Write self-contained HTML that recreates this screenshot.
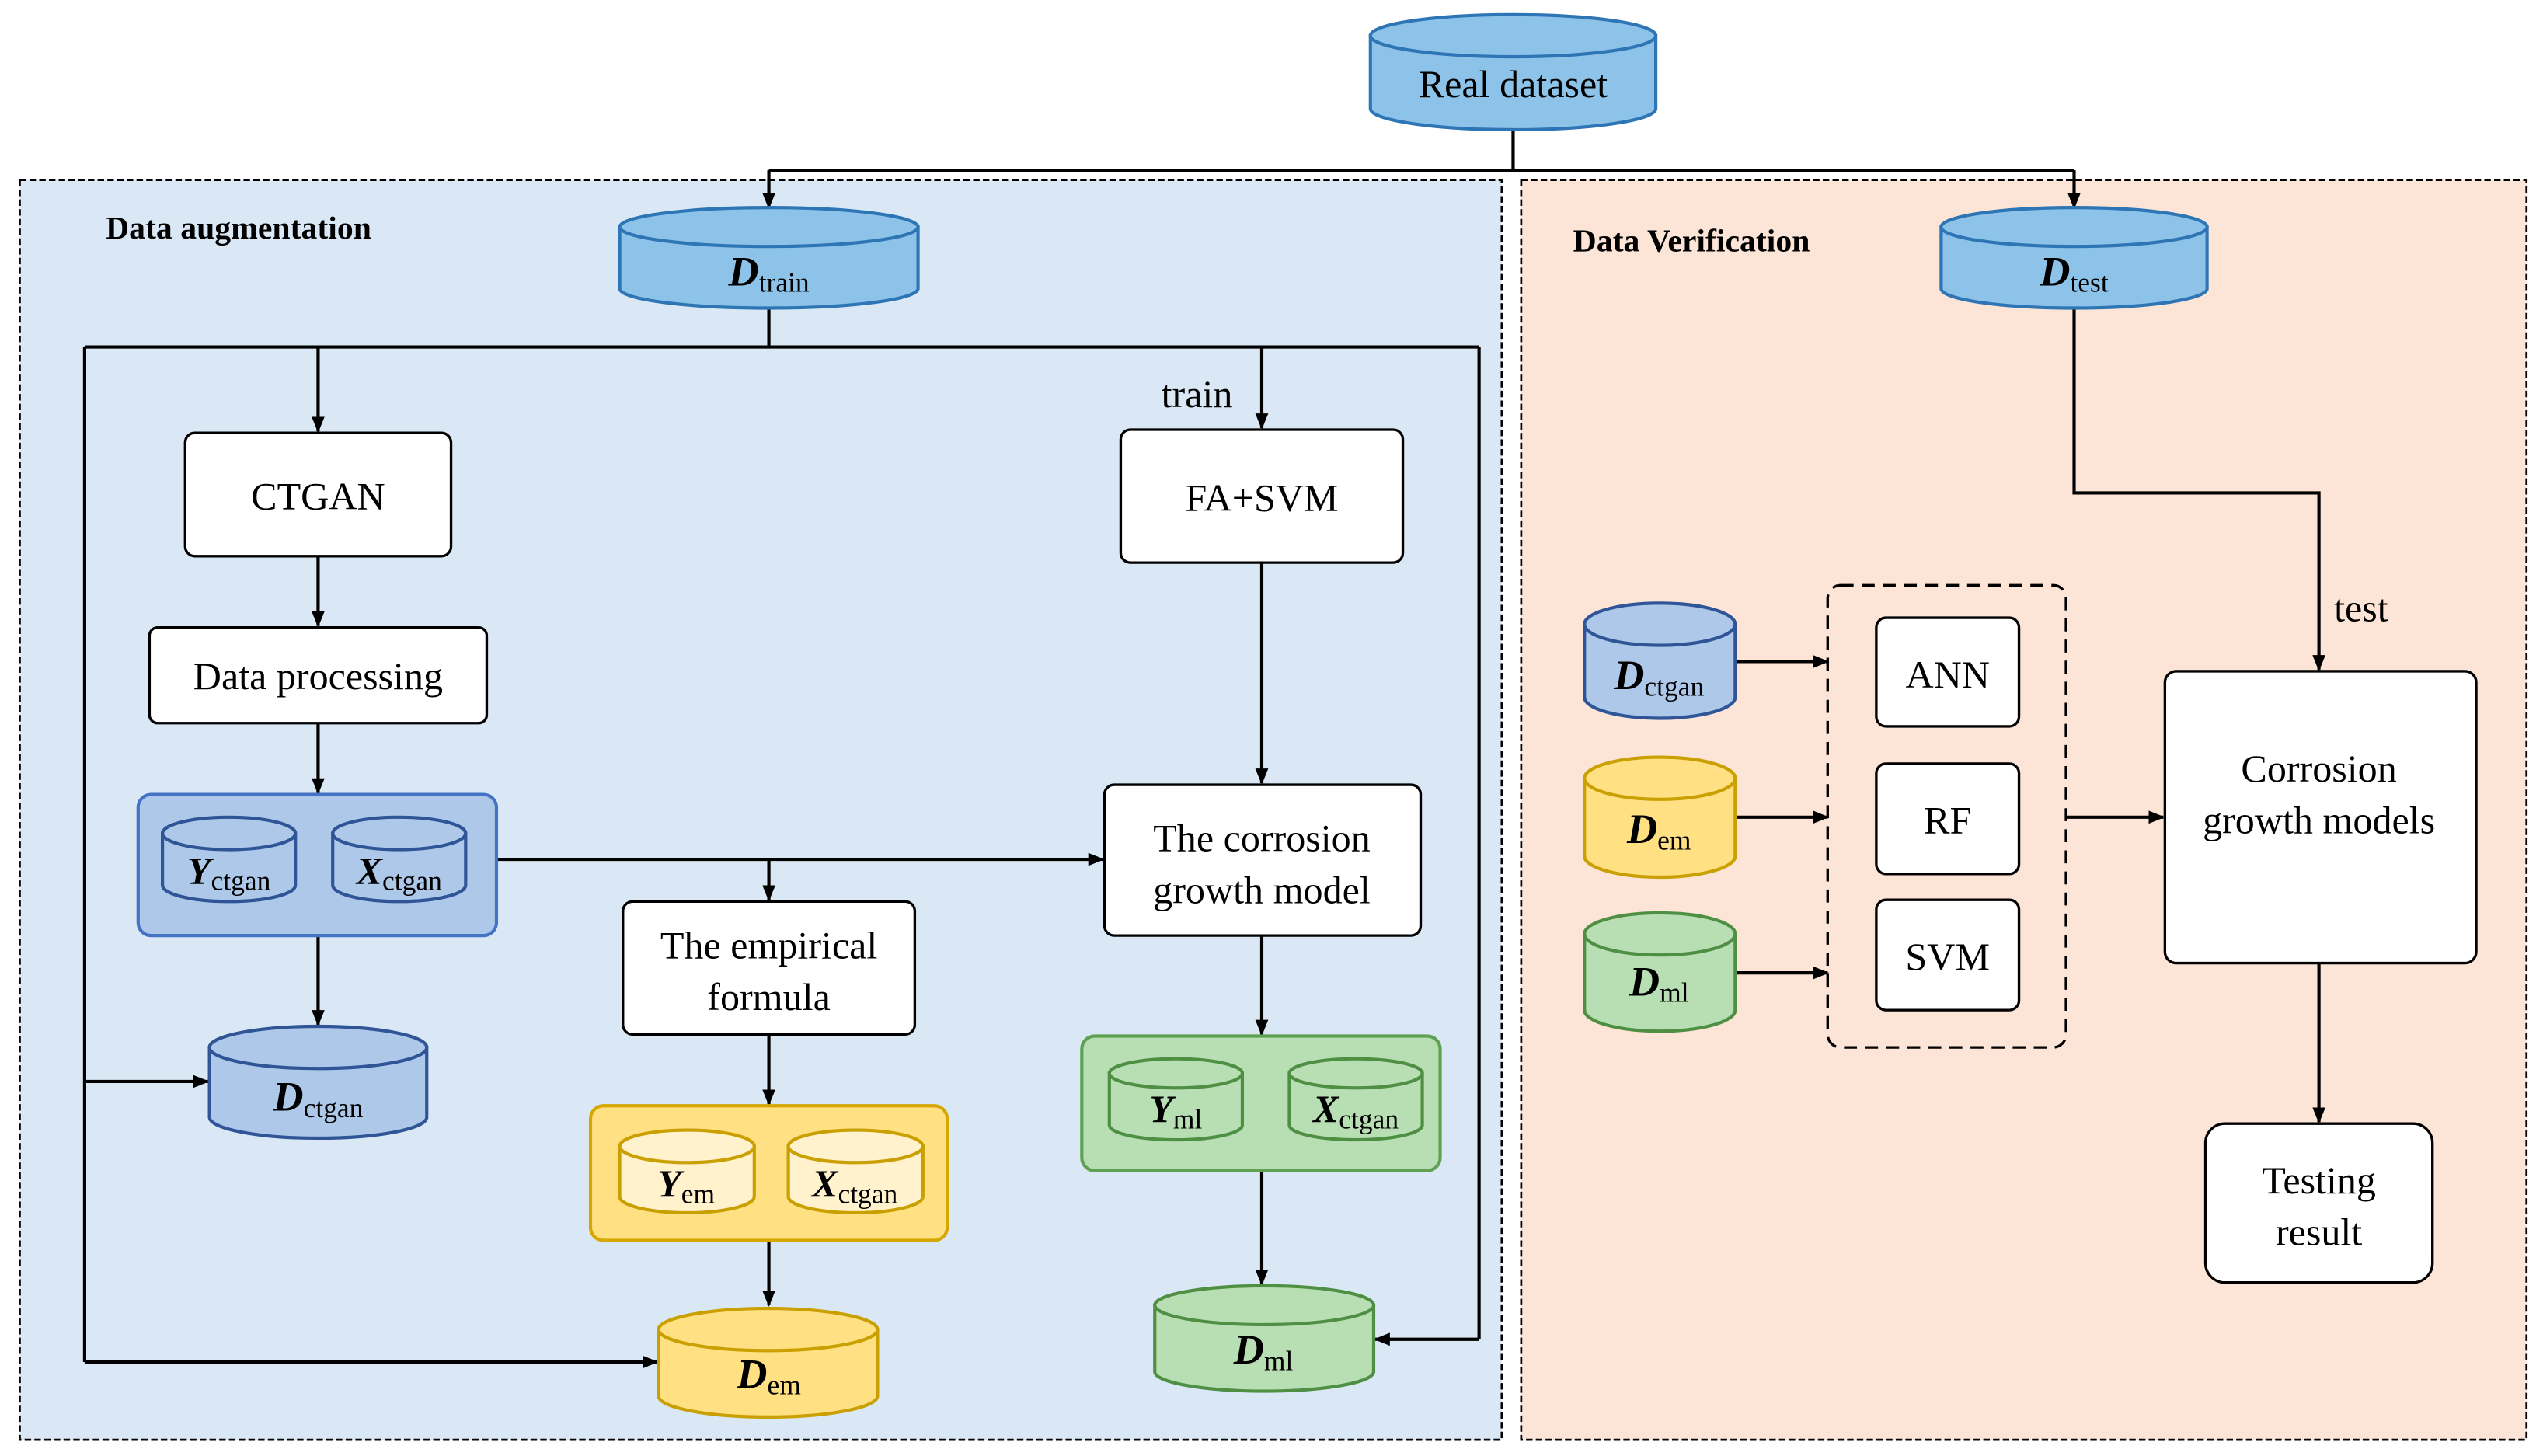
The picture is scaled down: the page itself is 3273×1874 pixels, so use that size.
<!DOCTYPE html>
<html><head><meta charset="utf-8"><style>html,body{margin:0;padding:0;background:#fff}svg{display:block}text,tspan{font-family:"Liberation Serif","DejaVu Serif",serif}</style></head>
<body>
<svg xmlns="http://www.w3.org/2000/svg" width="3273" height="1874" viewBox="0 0 1568 898">
<defs>
<marker id="a" markerWidth="10" markerHeight="10" refX="9" refY="5" orient="auto" markerUnits="userSpaceOnUse"><path d="M0,1 L10,5 L0,9 z" fill="#000"/></marker>
</defs>
<rect width="1568" height="898" fill="#fff"/>
<rect x="12" y="111" width="914" height="777" fill="#DAE8F5" stroke="#000" stroke-width="1.3" stroke-dasharray="4,2"/>
<rect x="938" y="111" width="620" height="777" fill="#FCE4D6" stroke="#000" stroke-width="1.3" stroke-dasharray="4,2"/>
<text x="65" y="147" font-size="20" font-weight="bold">Data augmentation</text>
<text x="970" y="155" font-size="20" font-weight="bold">Data Verification</text>

<g stroke="#000" stroke-width="2" fill="none">
<path d="M933,80 V105 M474,105 H1279"/>
<path d="M474,105 V128" marker-end="url(#a)"/>
<path d="M1279,105 V128" marker-end="url(#a)"/>
<path d="M474,190 V214 M52,214 H912 M52,214 V840 M912,214 V826"/>
<path d="M912,826 H848" marker-end="url(#a)"/>
<path d="M196,214 V266" marker-end="url(#a)"/>
<path d="M778,214 V264" marker-end="url(#a)"/>
<path d="M196,343 V386" marker-end="url(#a)"/>
<path d="M196,446 V489" marker-end="url(#a)"/>
<path d="M196,577 V632" marker-end="url(#a)"/>
<path d="M52,667 H128" marker-end="url(#a)"/>
<path d="M287,530 H680" marker-end="url(#a)"/>
<path d="M474,530 V555" marker-end="url(#a)"/>
<path d="M474,638 V681" marker-end="url(#a)"/>
<path d="M474,765 V805" marker-end="url(#a)"/>
<path d="M52,840 H405" marker-end="url(#a)"/>
<path d="M778,347 V483" marker-end="url(#a)"/>
<path d="M778,577 V638" marker-end="url(#a)"/>
<path d="M778,722 V792" marker-end="url(#a)"/>
<path d="M1279,190 V304 H1430 V413" marker-end="url(#a)"/>
<path d="M1430,594 V692" marker-end="url(#a)"/>
<path d="M1070,408 H1127" marker-end="url(#a)"/>
<path d="M1070,504 H1127" marker-end="url(#a)"/>
<path d="M1070,600 H1127" marker-end="url(#a)"/>
<path d="M1274,504 H1334" marker-end="url(#a)"/>
</g>

<g stroke-width="2">
<path d="M845,22 V67 A88,13 0 0 0 1021,67 V22 Z" fill="#8DC3E8" stroke="#2E75B6"/>
<ellipse cx="933" cy="22" rx="88" ry="13" fill="#8DC3E8" stroke="#2E75B6"/>
<path d="M382,140 V178 A92,12 0 0 0 566,178 V140 Z" fill="#8DC3E8" stroke="#2E75B6"/>
<ellipse cx="474" cy="140" rx="92" ry="12" fill="#8DC3E8" stroke="#2E75B6"/>
<path d="M1197,140 V178 A82,12 0 0 0 1361,178 V140 Z" fill="#8DC3E8" stroke="#2E75B6"/>
<ellipse cx="1279" cy="140" rx="82" ry="12" fill="#8DC3E8" stroke="#2E75B6"/>
<rect x="85" y="490" width="221" height="87" rx="8" fill="#AEC8EA" stroke="#4472C4"/>
<path d="M100,514 V546 A41,10 0 0 0 182,546 V514 Z" fill="#AEC8EA" stroke="#2F5597"/>
<ellipse cx="141" cy="514" rx="41" ry="10" fill="#AEC8EA" stroke="#2F5597"/>
<path d="M205,514 V546 A41,10 0 0 0 287,546 V514 Z" fill="#AEC8EA" stroke="#2F5597"/>
<ellipse cx="246" cy="514" rx="41" ry="10" fill="#AEC8EA" stroke="#2F5597"/>
<path d="M129,646 V689 A67,13 0 0 0 263,689 V646 Z" fill="#AEC8EA" stroke="#2F5597"/>
<ellipse cx="196" cy="646" rx="67" ry="13" fill="#AEC8EA" stroke="#2F5597"/>
<rect x="364" y="682" width="220" height="83" rx="8" fill="#FFE083" stroke="#D6A700"/>
<path d="M382,707 V738 A41.5,10 0 0 0 465,738 V707 Z" fill="#FFF2CC" stroke="#C9A000"/>
<ellipse cx="423.5" cy="707" rx="41.5" ry="10" fill="#FFF2CC" stroke="#C9A000"/>
<path d="M486,707 V738 A41.5,10 0 0 0 569,738 V707 Z" fill="#FFF2CC" stroke="#C9A000"/>
<ellipse cx="527.5" cy="707" rx="41.5" ry="10" fill="#FFF2CC" stroke="#C9A000"/>
<path d="M406,820 V861 A67.5,13 0 0 0 541,861 V820 Z" fill="#FFE083" stroke="#C9A000"/>
<ellipse cx="473.5" cy="820" rx="67.5" ry="13" fill="#FFE083" stroke="#C9A000"/>
<rect x="667" y="639" width="221" height="83" rx="8" fill="#B8DFB3" stroke="#5FA052"/>
<path d="M684,662 V694 A41,9 0 0 0 766,694 V662 Z" fill="#B8DFB3" stroke="#4F8F44"/>
<ellipse cx="725" cy="662" rx="41" ry="9" fill="#B8DFB3" stroke="#4F8F44"/>
<path d="M795,662 V694 A41,9 0 0 0 877,694 V662 Z" fill="#B8DFB3" stroke="#4F8F44"/>
<ellipse cx="836" cy="662" rx="41" ry="9" fill="#B8DFB3" stroke="#4F8F44"/>
<path d="M712,805 V846 A67.5,12 0 0 0 847,846 V805 Z" fill="#B8DFB3" stroke="#4F8F44"/>
<ellipse cx="779.5" cy="805" rx="67.5" ry="12" fill="#B8DFB3" stroke="#4F8F44"/>
<path d="M977,385 V430 A46.5,13 0 0 0 1070,430 V385 Z" fill="#AEC8EA" stroke="#2F5597"/>
<ellipse cx="1023.5" cy="385" rx="46.5" ry="13" fill="#AEC8EA" stroke="#2F5597"/>
<path d="M977,480 V528 A46.5,13 0 0 0 1070,528 V480 Z" fill="#FFE083" stroke="#C9A000"/>
<ellipse cx="1023.5" cy="480" rx="46.5" ry="13" fill="#FFE083" stroke="#C9A000"/>
<path d="M977,576 V623 A46.5,13 0 0 0 1070,623 V576 Z" fill="#B8DFB3" stroke="#4F8F44"/>
<ellipse cx="1023.5" cy="576" rx="46.5" ry="13" fill="#B8DFB3" stroke="#4F8F44"/>
</g>

<g fill="#fff" stroke="#000" stroke-width="1.6">
<rect x="114" y="267" width="164" height="76" rx="6"/>
<rect x="92" y="387" width="208" height="59" rx="5"/>
<rect x="384" y="556" width="180" height="82" rx="6"/>
<rect x="691" y="265" width="174" height="82" rx="6"/>
<rect x="681" y="484" width="195" height="93" rx="6"/>
<rect x="1157" y="381" width="88" height="67" rx="6"/>
<rect x="1157" y="471" width="88" height="68" rx="6"/>
<rect x="1157" y="555" width="88" height="68" rx="6"/>
<rect x="1335" y="414" width="192" height="180" rx="7"/>
<rect x="1360" y="693" width="140" height="98" rx="12"/>
</g>
<rect x="1127" y="361" width="147" height="285" rx="8" fill="none" stroke="#000" stroke-width="1.6" stroke-dasharray="8,5"/>

<g font-size="24" text-anchor="middle" fill="#000">
<text x="933" y="60">Real dataset</text>
<text x="196" y="314">CTGAN</text>
<text x="196" y="425">Data processing</text>
<text x="474" y="591">The empirical</text>
<text x="474" y="623">formula</text>
<text x="778" y="315">FA+SVM</text>
<text x="778" y="525">The corrosion</text>
<text x="778" y="557">growth model</text>
<text x="1201" y="424">ANN</text>
<text x="1201" y="514">RF</text>
<text x="1201" y="598">SVM</text>
<text x="1430" y="482">Corrosion</text>
<text x="1430" y="514">growth models</text>
<text x="1430" y="736">Testing</text>
<text x="1430" y="768">result</text>
<text x="738" y="251">train</text>
<text x="1456" y="383">test</text>
</g>
<g text-anchor="middle" fill="#000">
<text x="474" y="176"><tspan font-size="26" font-weight="bold" font-style="italic">D</tspan><tspan font-size="17" dy="4">train</tspan></text>
<text x="1279" y="176"><tspan font-size="26" font-weight="bold" font-style="italic">D</tspan><tspan font-size="17" dy="4">test</tspan></text>
<text x="141" y="545"><tspan font-size="24" font-weight="bold" font-style="italic">Y</tspan><tspan font-size="17" dy="4">ctgan</tspan></text>
<text x="246" y="545"><tspan font-size="24" font-weight="bold" font-style="italic">X</tspan><tspan font-size="17" dy="4">ctgan</tspan></text>
<text x="196" y="685"><tspan font-size="26" font-weight="bold" font-style="italic">D</tspan><tspan font-size="17" dy="4">ctgan</tspan></text>
<text x="423" y="738"><tspan font-size="24" font-weight="bold" font-style="italic">Y</tspan><tspan font-size="17" dy="4">em</tspan></text>
<text x="527" y="738"><tspan font-size="24" font-weight="bold" font-style="italic">X</tspan><tspan font-size="17" dy="4">ctgan</tspan></text>
<text x="474" y="856"><tspan font-size="26" font-weight="bold" font-style="italic">D</tspan><tspan font-size="17" dy="4">em</tspan></text>
<text x="725" y="692"><tspan font-size="24" font-weight="bold" font-style="italic">Y</tspan><tspan font-size="17" dy="4">ml</tspan></text>
<text x="836" y="692"><tspan font-size="24" font-weight="bold" font-style="italic">X</tspan><tspan font-size="17" dy="4">ctgan</tspan></text>
<text x="779" y="841"><tspan font-size="26" font-weight="bold" font-style="italic">D</tspan><tspan font-size="17" dy="4">ml</tspan></text>
<text x="1023" y="425"><tspan font-size="26" font-weight="bold" font-style="italic">D</tspan><tspan font-size="17" dy="4">ctgan</tspan></text>
<text x="1023" y="520"><tspan font-size="26" font-weight="bold" font-style="italic">D</tspan><tspan font-size="17" dy="4">em</tspan></text>
<text x="1023" y="614"><tspan font-size="26" font-weight="bold" font-style="italic">D</tspan><tspan font-size="17" dy="4">ml</tspan></text>
</g>
</svg>
</body></html>
